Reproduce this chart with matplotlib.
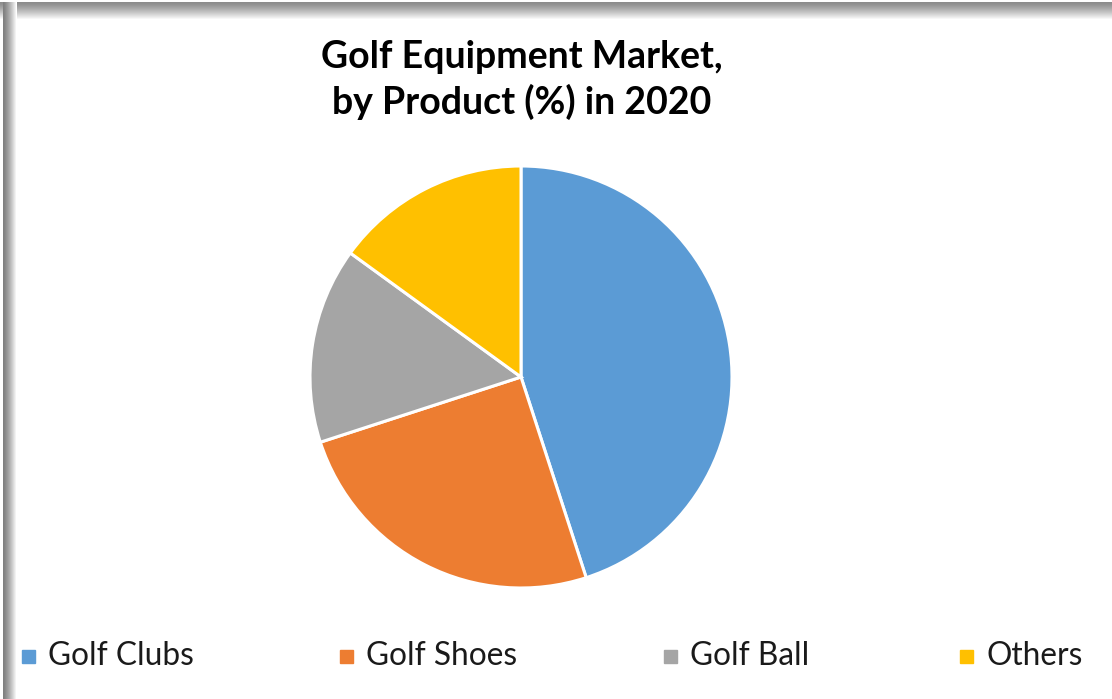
import numpy as np
import matplotlib.pyplot as plt
from matplotlib.patches import Rectangle

# data
products = ["Golf Clubs", "Golf Shoes", "Golf Ball", "Others"]
shares = [45, 25, 15, 15]
colors = ["#5B9BD5", "#ED7D31", "#A5A5A5", "#FFC000"]

title = "Golf Equipment Market,\nby Product (%) in 2020"

W, H = 1112, 699
fig = plt.figure(figsize=(W / 100, H / 100), dpi=100)
fig.patch.set_facecolor("white")

# soft shadow frame on the top and left edges
shade = fig.add_axes([0, 0, 1, 1], zorder=0)
shade.set_xlim(0, W)
shade.set_ylim(H, 0)
shade.axis("off")
top = 0.55 + 0.45 * np.linspace(0, 1, 18) ** 1.3
shade.imshow(top[:, None], cmap="gray", vmin=0, vmax=1, aspect="auto",
             extent=(0, W, 20, 2), interpolation="bilinear")
left = 0.5 + 0.5 * np.linspace(0, 1, 14) ** 1.3
shade.imshow(left[None, :], cmap="gray", vmin=0, vmax=1, aspect="auto",
             extent=(3, 17, H, 2), interpolation="bilinear")

# pie
cx, cy, r = 521, 377, 211
ax = fig.add_axes([(cx - r) / W, (H - cy - r) / H, 2 * r / W, 2 * r / H])
ax.pie(shares, colors=colors, startangle=90, counterclock=False,
       wedgeprops=dict(edgecolor="white", linewidth=2.2))
ax.set_xlim(-1, 1)
ax.set_ylim(-1, 1)
ax.set_aspect("equal")

# title, one text per line so the line spacing matches
for line, y in zip(title.split("\n"), [57, 102]):
    fig.text(522 / W, 1 - y / H, line, ha="center", va="center",
             fontsize=27, fontweight="bold", family="Lato", color="#000000")

# legend
legend_x = [22, 340, 664, 960]
for x, name, c in zip(legend_x, products, colors):
    fig.patches.append(Rectangle((x / W, 1 - 663 / H), 13 / W, 13 / H,
                                 transform=fig.transFigure, color=c))
    fig.text((x + 26) / W, 1 - 656 / H, name, ha="left", va="center",
             fontsize=22.8, family="Lato", color="#1a1a1a")

fig.savefig("out.png", dpi=100)
